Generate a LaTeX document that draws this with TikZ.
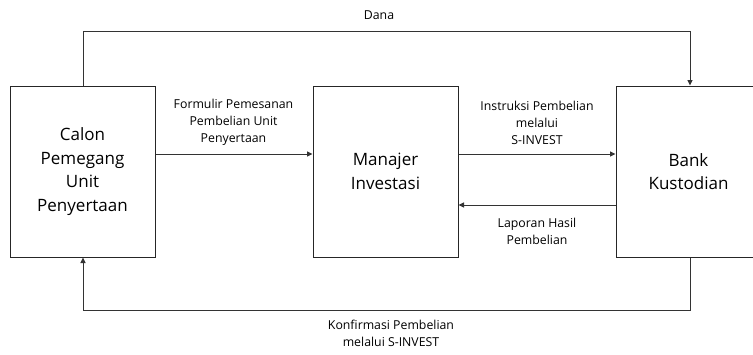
\documentclass[tikz,border=0pt]{standalone}
\usepackage{fontspec}
\setmainfont{Open Sans}
\usetikzlibrary{arrows.meta}
\begin{document}
\begin{tikzpicture}[x=1pt,y=1pt,
  box/.style={draw=black!85, line width=1pt, minimum width=145pt, minimum height=171pt, inner sep=0pt, align=center, font=\fontsize{17}{23.5}\selectfont},
  conn/.style={draw=black!80, line width=1pt},
  arr/.style={conn, -{Triangle[length=5.5pt,width=5pt]}},
  lbl/.style={align=center, font=\fontsize{12.3}{17}\selectfont, inner sep=0pt}]
\useasboundingbox (0,0) rectangle (753,-354);
\clip (0,0) rectangle (753,-354);
\node[box] (calon) at (82.5,-171.5) {Calon\\Pemegang\\Unit\\Penyertaan};
\node[box] (mi) at (385.5,-171.5) {Manajer\\Investasi};
\node[box] (bank) at (688.5,-171.5) {Bank\\Kustodian};
\coordinate (tl) at (83,-31);
\coordinate (tr) at (690,-31);
\coordinate (bl) at (83,-310);
\coordinate (br) at (690,-310);
\draw[arr] (calon.north -| tl) -- (tl) -- (tr) -- (bank.north -| tr);
\draw[arr] (bank.south -| br) -- (br) -- (bl) -- (calon.south -| bl);
\draw[arr] (calon.east |- 0,-154) -- (mi.west |- 0,-154);
\draw[arr] (mi.east |- 0,-154) -- (bank.west |- 0,-154);
\draw[arr] (bank.west |- 0,-205) -- (mi.east |- 0,-205);
\node[lbl] (ldana) at (379,-15) {Dana};
\node[lbl] (lform) at (233.5,-122.5) {Formulir Pemesanan\\Pembelian Unit\\Penyertaan};
\node[lbl] (linst) at (537,-122.5) {Instruksi Pembelian\\melalui\\S-INVEST};
\node[lbl] (llap) at (537,-231.5) {Laporan Hasil\\Pembelian};
\node[lbl] (lkonf) at (391,-333.5) {Konfirmasi Pembelian\\melalui S-INVEST};
\end{tikzpicture}
\end{document}
